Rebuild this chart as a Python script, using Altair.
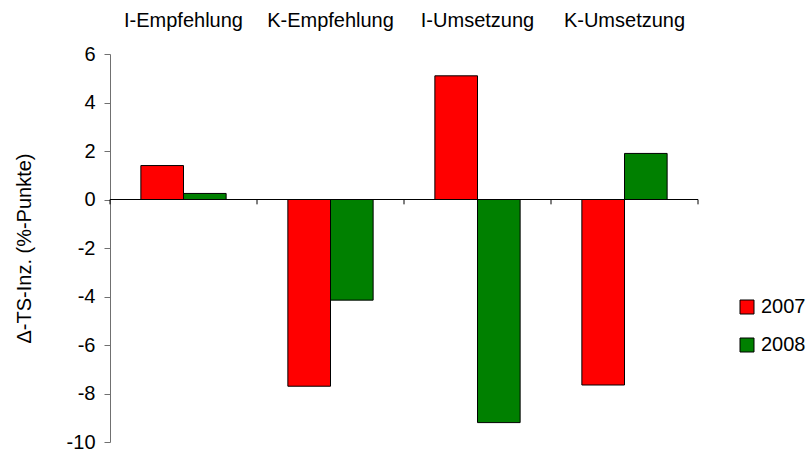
import altair as alt
import pandas as pd

# Change in TS incidence (percentage points) per measure and year
categories = ["I-Empfehlung", "K-Empfehlung", "I-Umsetzung", "K-Umsetzung"]
years = ["2007", "2008"]
values_2007 = [1.4, -7.7, 5.1, -7.65]
values_2008 = [0.25, -4.15, -9.2, 1.9]
y_ticks = [-10, -8, -6, -4, -2, 0, 2, 4, 6]

rows = []
for cat, v07, v08 in zip(categories, values_2007, values_2008):
    rows.append({"cat": cat, "year": "2007", "value": v07})
    rows.append({"cat": cat, "year": "2008", "value": v08})
df = pd.DataFrame(rows)
cats_df = pd.DataFrame({"cat": categories})

FONT = "Liberation Sans"

x_scale = alt.Scale(domain=categories, paddingInner=0.42, paddingOuter=0.21)
y_scale = alt.Scale(domain=[-10, 6], nice=False, zero=False)

bars = alt.Chart(df).mark_bar(stroke="black", strokeWidth=1).encode(
    x=alt.X(
        "cat:N",
        scale=x_scale,
        sort=categories,
        axis=alt.Axis(
            orient="top", title=None, domain=False, ticks=False, tickSize=0,
            labelAngle=0, labelPadding=24, labelFontSize=20, labelFont=FONT,
            labelColor="black",
        ),
    ),
    xOffset=alt.XOffset("year:N", sort=years, scale=alt.Scale(paddingInner=0, paddingOuter=0)),
    y=alt.Y(
        "value:Q",
        scale=y_scale,
        axis=alt.Axis(
            title="Δ-TS-Inz. (%-Punkte)", titleFontSize=20, titleFont=FONT,
            titleFontWeight="normal", titleColor="black", titlePadding=32,
            values=y_ticks, grid=False, labelFontSize=20, labelFont=FONT,
            labelColor="black", tickSize=6, labelPadding=9,
            labelExpr="'' + datum.value",
            domainColor="#707070", tickColor="#707070",
        ),
    ),
    color=alt.Color(
        "year:N",
        sort=years,
        scale=alt.Scale(domain=years, range=["#FF0000", "#008000"]),
        legend=alt.Legend(
            title=None, orient="none", legendX=627, legendY=243, padding=0,
            symbolType="square", symbolSize=196, symbolStrokeColor="black",
            symbolStrokeWidth=1, labelFontSize=20, labelFont=FONT,
            labelColor="black", rowPadding=18, labelOffset=4,
        ),
    ),
)

# Zero baseline across the plot
zero_line = alt.Chart(cats_df).mark_rule(color="black", strokeWidth=1).encode(
    y=alt.datum(0, scale=y_scale)
)

# Category boundary ticks hanging below the baseline (unpadded band scale)
tick_scale = alt.Scale(domain=categories, paddingInner=0, paddingOuter=0)
tick_start = alt.Chart(cats_df).mark_rule(color="black", strokeWidth=1).encode(
    x=alt.X("cat:N", sort=categories, scale=tick_scale, bandPosition=0, axis=None),
    y=alt.datum(0),
    y2=alt.datum(-0.2),
)
tick_end = alt.Chart(cats_df).transform_filter(
    alt.datum.cat == categories[-1]
).mark_rule(color="black", strokeWidth=1).encode(
    x=alt.X("cat:N", sort=categories, scale=tick_scale, bandPosition=1, axis=None),
    y=alt.datum(0),
    y2=alt.datum(-0.2),
)
ticks = alt.layer(tick_start, tick_end)

chart = alt.layer(bars, zero_line, ticks).resolve_scale(x="independent").properties(
    width=588,
    height=388,
    autosize="none",
    padding={"left": 110, "top": 54, "right": 110, "bottom": 10},
    background="white",
).configure_view(stroke=None).configure_axis(labelFont=FONT, titleFont=FONT)

chart.save("out.html", embed_options={"renderer": "svg", "actions": False})
